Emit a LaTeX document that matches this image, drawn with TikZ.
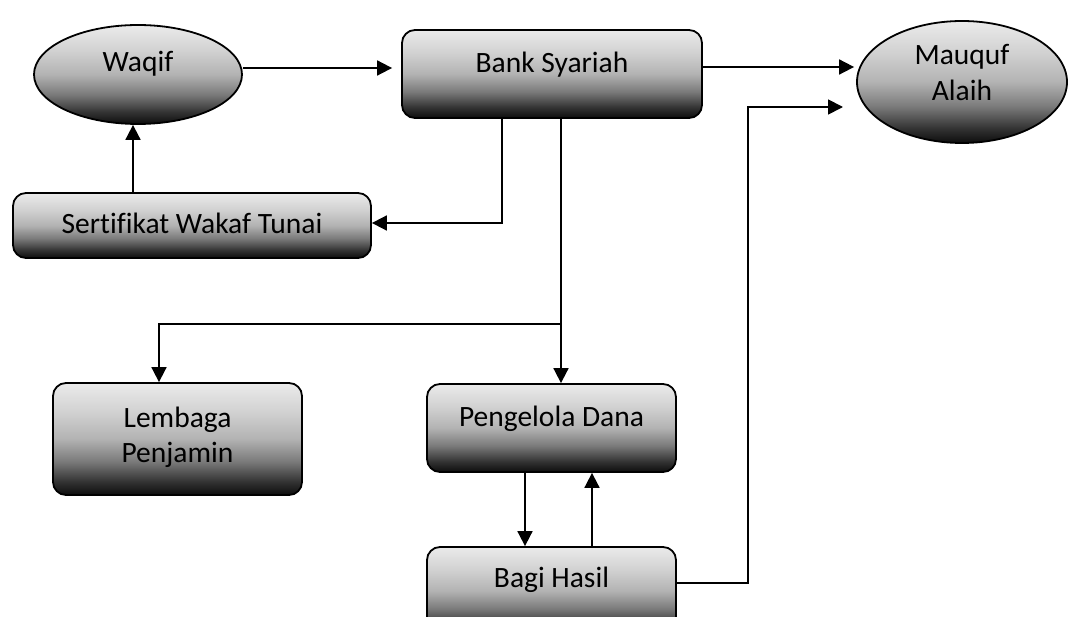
\documentclass[tikz,border=0pt]{standalone}
\usepackage{fontspec}
\setmainfont{Carlito}[Ligatures={NoCommon}]
\usetikzlibrary{arrows.meta,shapes.geometric}

% light grey at the top, darkening to black at the bottom
\pgfdeclareverticalshading{boxshade}{100bp}{%
  color(0bp)=(black!95); color(25bp)=(black!95); color(31bp)=(black!80);
  color(40bp)=(black!52); color(50bp)=(black!30); color(62bp)=(black!18);
  color(75bp)=(black!8); color(100bp)=(black!8)}

\tikzset{
  shapebase/.style={draw=black, line width=1.8pt, shading=boxshade, inner sep=0pt},
  box/.style={shapebase, rectangle, rounded corners=13pt},
  oval/.style={shapebase, ellipse},
  txt/.style={anchor=base, inner sep=0pt, font=\fontsize{29.5}{35}\selectfont},
  arr/.style={draw=black, line width=1.8pt, -{Triangle[length=15pt,width=15pt]}},
  link/.style={draw=black, line width=1.8pt}
}

\begin{document}
\begin{tikzpicture}[x=1pt, y=-1pt]
\useasboundingbox (0,0) rectangle (1068,617);
\clip (0,0) rectangle (1068,617);

% shapes
\node[oval, minimum width=208pt, minimum height=99pt]  (waqif)  at (138,74.5) {};
\node[box,  minimum width=300pt, minimum height=88pt]  (bank)   at (552,74)   {};
\node[oval, minimum width=210pt, minimum height=122pt] (mauquf) at (962,82)   {};
\node[box,  minimum width=358pt, minimum height=65pt]  (sert)   at (192,225.5) {};
\node[box,  minimum width=249pt, minimum height=112pt] (lemb)   at (177.5,439) {};
\node[box,  minimum width=249pt, minimum height=88pt]  (peng)   at (551.5,428) {};
\node[box,  minimum width=249pt, minimum height=88pt]  (bagi)   at (551.5,591) {};

% labels
\node[txt] (waqif-t)  at (138,72)  {Waqif};
\node[txt] (bank-t)   at (552,73)  {Bank Syariah};
\node[txt] (mauquf-t1) at (962,65) {Mauquf};
\node[txt] (mauquf-t2) at (962,101) {Alaih};
\node[txt] (sert-t)   at (192,234) {Sertifikat Wakaf Tunai};
\node[txt] (lemb-t1)  at (177.5,427) {Lembaga};
\node[txt] (lemb-t2)  at (177.5,462) {Penjamin};
\node[txt] (peng-t)   at (551.5,426) {Pengelola Dana};
\node[txt] (bagi-t)   at (551.5,587) {Bagi Hasil};

% helper coordinates for connector rows and columns
\coordinate (r68)  at (0,68);
\coordinate (r67)  at (0,67);
\coordinate (r223) at (0,223);
\coordinate (r583) at (0,583);
\coordinate (c133) at (133,0);
\coordinate (c159) at (159,0);
\coordinate (c502) at (502,0);
\coordinate (c525) at (525,0);
\coordinate (c561) at (561,0);
\coordinate (c592) at (592,0);
\coordinate (c748) at (748,0);
\coordinate (split) at (561,324);
\coordinate (mq-in) at (843,107);

% connectors
\draw[arr, shorten >=9pt] (waqif.east |- r68) -- (bank.west |- r68);
\draw[arr, shorten >=2pt] (bank.east |- r67) -- (mauquf.west |- r67);
\draw[arr] (bank.south -| c502) |- (sert.east |- r223);
\draw[arr] (sert.north -| c133) -- (waqif.south -| c133);
\draw[arr] (bank.south -| c561) -- (peng.north -| c561);
\draw[arr] (split) -| (lemb.north -| c159);
\draw[arr] (peng.south -| c525) -- (bagi.north -| c525);
\draw[arr] (bagi.north -| c592) -- (peng.south -| c592);
\draw[arr] (bagi.east |- r583) -| (c748 |- mq-in) -- (mq-in);
\end{tikzpicture}
\end{document}
